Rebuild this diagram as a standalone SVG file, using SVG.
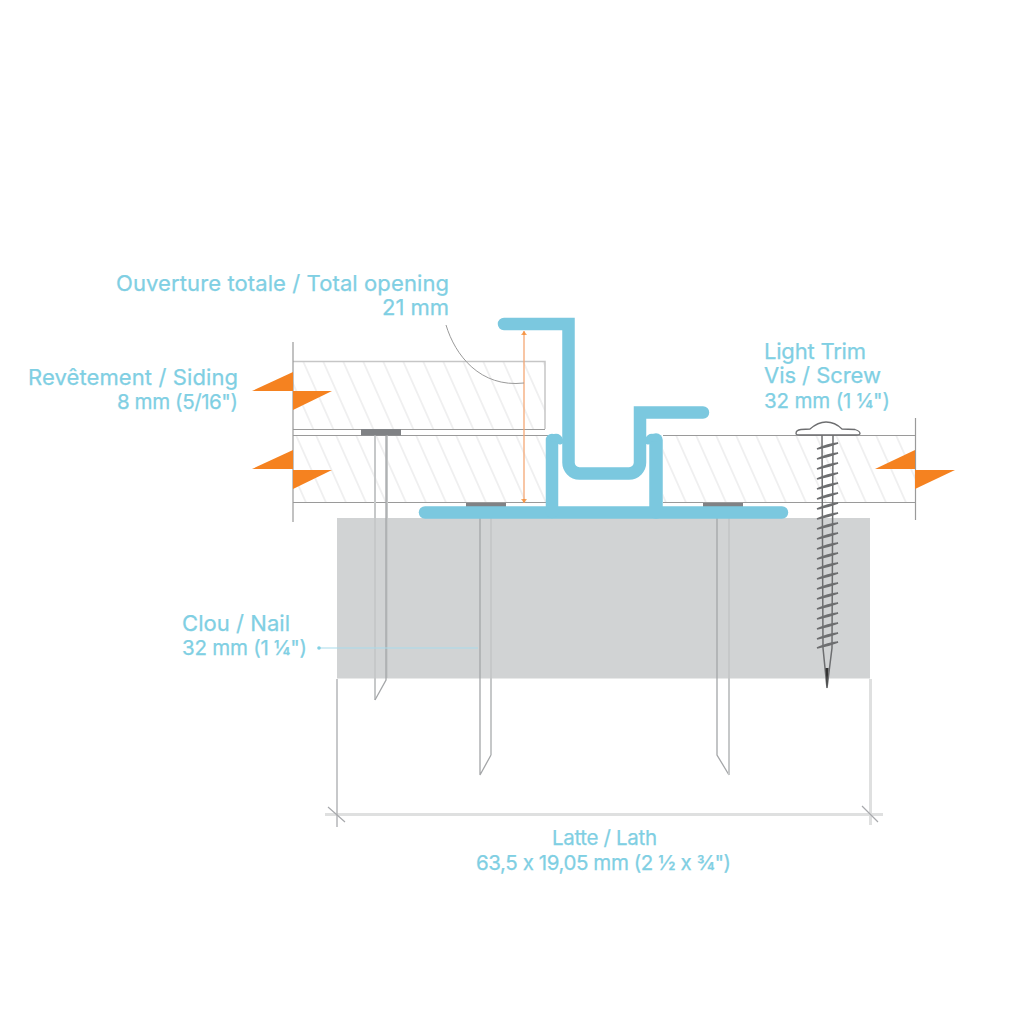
<svg xmlns="http://www.w3.org/2000/svg" width="1024" height="1024" viewBox="0 0 1024 1024">
<style>
.lbl{font-family:"Inter","Liberation Sans",sans-serif;font-size:22px;fill:#80cfe3;font-feature-settings:"calt" 0;stroke:#80cfe3;stroke-width:.25}
.sm{font-size:20.500px}
.end{text-anchor:end}
.mid{text-anchor:middle}
.o{fill:#f58220}
.bd{fill:url(#hatch)}
.edge{fill:none;stroke:#9a9a9a;stroke-width:1.2}
.soft{fill:none;stroke:#c6c6c6;stroke-width:1.5}
.pl{fill:none;stroke:#7bc8df;stroke-width:12.500;stroke-linecap:round;stroke-linejoin:miter}
.hook{fill:none;stroke:#7bc8df;stroke-width:7;stroke-linecap:round}
.dim{fill:none;stroke:#dfe0e0;stroke-width:3}
.nd{fill:none;stroke:#a4a6a8;stroke-width:1.3}
.nl{fill:none;stroke:#c6c8c9;stroke-width:2}
.head{fill:#808285}
.th{fill:none;stroke:#6d6e70;stroke-width:1.5}
</style>
<defs>
<pattern id="hatch" width="20" height="20" patternUnits="userSpaceOnUse" patternTransform="translate(293 361) skewX(24)">
<path d="M10 -2V22" stroke="#e9e9ea" stroke-width="1.400" fill="none"/>
</pattern>
</defs>
<rect width="1024" height="1024" fill="#fff"/>
<g id="lath"><rect x="337" y="518" width="533" height="160.500" fill="#d1d3d4"/></g>
<g id="board-top"><rect class="bd" x="293" y="361" width="252" height="68"/><path class="soft" d="M293 361.500H545V429"/><path class="edge" d="M293 429.500H545"/></g>
<g id="board-left"><rect class="bd" x="293" y="435" width="255" height="68"/><path class="edge" d="M293 435.500H548M293 502.500H548"/></g>
<g id="board-right"><rect class="bd" x="663" y="435" width="253" height="68"/><path class="edge" d="M663 435.500H916M663 502.500H916"/></g>
<g id="edges"><path class="edge" d="M293 342V522M915.500 418V520"/></g>
<g id="orange-markers">
<path class="o" d="M252 391L293 372V391Z"/><path class="o" d="M293 391H332L293 410Z"/>
<path class="o" d="M252 469L293 450V469Z"/><path class="o" d="M293 470H332L293 489Z"/>
<path class="o" d="M875 469L915 450V469Z"/><path class="o" d="M915 470H955L915 489Z"/>
</g>
<g id="nail-1"><path class="nl" d="M375 435V700"/><path class="nl" d="M387 678V435"/><path class="nd" d="M386 435V680L375 700"/><rect class="head" x="361" y="429" width="40" height="6.500"/></g>
<g id="nail-2"><path class="nd" d="M480 508V775L491 755"/><path class="nl" d="M491 755V508"/><rect class="head" x="466" y="503" width="40" height="5.500"/></g>
<g id="nail-3"><path class="nd" d="M717 508V755L729 775"/><path class="nl" d="M729 775V508"/><rect class="head" x="703" y="503" width="40" height="5.500"/></g>
<g id="screw">
<path fill="#fff" stroke="#6d6e70" stroke-width="1.3" d="M796 433.500Q796 430 801 429.500L810 429Q818 422 826 422Q835 422 842 429L855 429.500Q860 431 860 433.500Q860 435 856 435H800Q796 435 796 433.500Z"/>
<path class="th" d="M822 435L823 648L827 688L832 648L833 435"/>
<path class="th" d="M817 449Q828 447 838 443Q828 444 817 449M817 459Q828 457 838 453Q828 454 817 459M817 469Q828 467 838 463Q828 464 817 469M817 479Q828 477 838 473Q828 474 817 479M817 489Q828 487 838 483Q828 484 817 489M817 499Q828 497 838 493Q828 494 817 499M817 509Q828 507 838 503Q828 504 817 509M817 519Q828 517 838 513Q828 514 817 519M817 529Q828 527 838 523Q828 524 817 529M817 539Q828 537 838 533Q828 534 817 539M817 549Q828 547 838 543Q828 544 817 549M817 559Q828 557 838 553Q828 554 817 559M817 569Q828 567 838 563Q828 564 817 569M817 579Q828 577 838 573Q828 574 817 579M817 589Q828 587 838 583Q828 584 817 589M817 599Q828 597 838 593Q828 594 817 599M817 609Q828 607 838 603Q828 604 817 609M817 619Q828 617 838 613Q828 614 817 619M817 629Q828 627 838 623Q828 624 817 629M817 639Q828 637 838 633Q828 634 817 639M817 648Q828 646 838 642Q828 643 817 648"/>
<path d="M825.500 668L827 689L828.500 668Z" fill="#333"/>
</g>
<g id="connectors">
<path d="M524 331V503" fill="none" stroke="#f5a875" stroke-width="1.300"/>
<path d="M521 335L524 331L527 335ZM521 499L524 503L527 499Z" fill="#f58220" opacity=".7"/>
<path d="M446 325C455 355 480 388 524 383" fill="none" stroke="#9a9a9a" stroke-width="1"/>
<path d="M319 648H478" fill="none" stroke="#a8dceb" stroke-width="1.200"/>
<circle cx="319" cy="648" r="1.800" fill="#82d0e3"/>
</g>
<g id="dimension">
<path class="dim" d="M870.500 679V825M325 814.500H883"/>
<path d="M337 679V827" fill="none" stroke="#b5b6b8" stroke-width="1.500"/>
<path d="M328 807L345 822M862 806L878 822" fill="none" stroke="#a7a9ac" stroke-width="1.200"/>
</g>
<g id="trim-profile">
<path class="pl" d="M504 324H568.500V462A11 11 0 0 0 579.500 473.500H629A11 11 0 0 0 640 462V412.500H703"/>
<path class="pl" d="M425 512.500H782"/>
<path class="pl" d="M552 440V512"/>
<path class="pl" d="M656 440V512" style="stroke-width:13.500"/>
<path class="hook" d="M553 438Q558 436 560 441M655 438Q650 436 648 441"/>
</g>
<g id="labels">
<text class="lbl end" x="449" y="291" textLength="333">Ouverture totale / Total opening</text>
<text class="lbl end" x="449" y="315" textLength="67">21 mm</text>
<text class="lbl end" x="238" y="385" textLength="210">Revêtement / Siding</text>
<text class="lbl sm end" x="238" y="409" textLength="121">8 mm (5/16")</text>
<text class="lbl" x="764" y="359" textLength="102">Light Trim</text>
<text class="lbl" x="764" y="383" textLength="117">Vis / Screw</text>
<text class="lbl sm" x="764" y="408" textLength="126">32 mm (1 ¼")</text>
<text class="lbl end" x="290" y="631" textLength="108">Clou / Nail</text>
<text class="lbl sm end" x="307" y="655" textLength="125">32 mm (1 ¼")</text>
<text class="lbl sm mid" x="604.500" y="845" textLength="105">Latte / Lath</text>
<text class="lbl sm mid" x="603.500" y="870" textLength="255">63,5 x 19,05 mm (2 ½ x ¾")</text>
</g>
</svg>
